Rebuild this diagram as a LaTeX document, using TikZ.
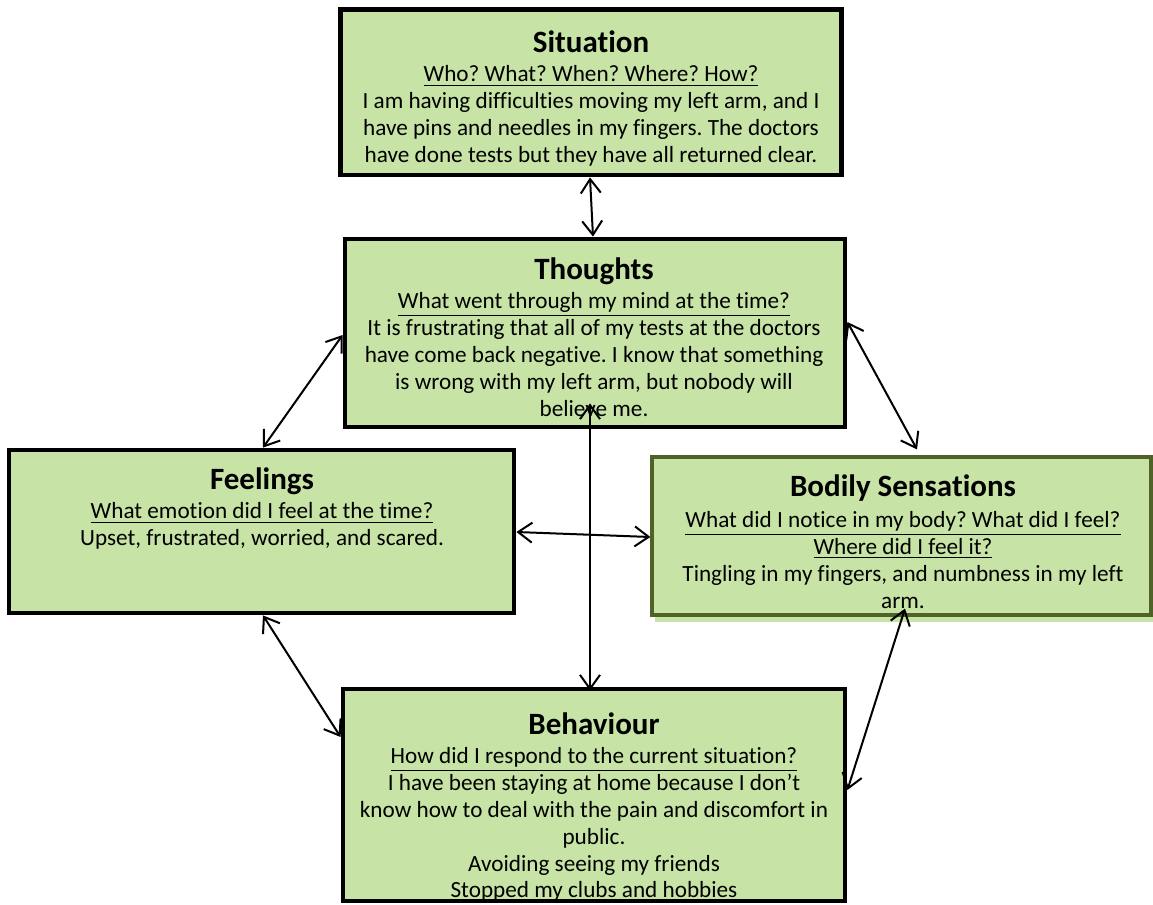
\documentclass[tikz,border=0pt]{standalone}
\usepackage{fontspec}
\setmainfont{Carlito}[Ligatures=NoCommon]
\frenchspacing
\usetikzlibrary{arrows.meta,shadows}

\definecolor{boxgreen}{RGB}{199,228,166}
\definecolor{edgegreen}{RGB}{79,98,40}
\newcommand{\boxtitle}[1]{{\fontsize{15.5}{16}\selectfont\bfseries #1}}

\begin{document}
\begin{tikzpicture}[
  x={(0.5pt,0)}, y={(0,-0.5pt)},
  box/.style={draw, line width=2.4pt, fill=boxgreen, inner sep=0pt},
  boxtext/.style={anchor=north, align=center, inner sep=0pt,
                  font=\fontsize{11.6}{13.4}\selectfont},
  link/.style={{Straight Barb[length=7pt,width=10pt]}-{Straight Barb[length=7pt,width=10pt]},
               line width=1pt},
]
  \useasboundingbox (0,0) rectangle (1153,905);

  % Boxes
  \node[box, minimum width=250.5pt, minimum height=82.75pt] (situation) at (591,92.25) {};
  \node[box, minimum width=250pt, minimum height=94pt] (thoughts) at (595,333) {};
  \node[box, minimum width=252.5pt, minimum height=81.5pt] (feelings) at (261.5,531.5) {};
  \node[box, draw=edgegreen, line width=1.6pt, minimum width=249.5pt, minimum height=79pt,
        drop shadow={shadow xshift=1.5pt, shadow yshift=-3.5pt, fill=boxgreen, opacity=1}]
        (bodily) at (901.5,536) {};
  \node[box, minimum width=251pt, minimum height=106pt] (behaviour) at (594,795) {};

  % Texts
  \node[boxtext] (situation text) at (591,30) {%
    \boxtitle{Situation}\\[1.5pt]
    \underline{Who? What? When? Where? How?}\\
    I am having difficulties moving my left arm, and I\\
    have pins and needles in my fingers. The doctors\\
    have done tests but they have all returned clear.};
  \node[boxtext] (thoughts text) at (594,257) {%
    \boxtitle{Thoughts}\\[1.5pt]
    \underline{What went through my mind at the time?}\\
    It is frustrating that all of my tests at the doctors\\
    have come back negative. I know that something\\
    is wrong with my left arm, but nobody will\\
    believe me.};
  \node[boxtext] (feelings text) at (262,467) {%
    \boxtitle{Feelings}\\[1.5pt]
    \underline{What emotion did I feel at the time?}\\
    Upset, frustrated, worried, and scared.};
  \node[boxtext] (bodily text) at (903,474) {%
    \boxtitle{Bodily Sensations}\\[2.5pt]
    \underline{What did I notice in my body? What did I feel?}\\
    \underline{Where did I feel it?}\\
    Tingling in my fingers, and numbness in my left\\
    arm.};
  \node[boxtext] (behaviour text) at (594,712) {%
    \boxtitle{Behaviour}\\[1.5pt]
    \underline{How did I respond to the current situation?}\\
    I have been staying at home because I don’t\\
    know how to deal with the pain and discomfort in\\
    public.\\
    Avoiding seeing my friends\\
    Stopped my clubs and hobbies};

  % Arrows
  \draw[link] (situation.south -| 590,0) -- (thoughts.north -| 593,0);
  \draw[link] (thoughts.west |- 0,335) -- (feelings.north -| 263,0);
  \draw[link] (thoughts.east |- 0,322) -- ([yshift=3pt]bodily.north -| 917,0);
  \draw[link] (feelings.south -| 263,0) -- (behaviour.west |- 0,737);
  \draw[link] ([yshift=4pt]bodily.south -| 905,0) -- (behaviour.east |- 0,790);
  \draw[link] (feelings.east |- 0,532) -- (bodily.west |- 0,537);
  \draw[link] ([yshift=13pt]thoughts.south -| 590,0) -- ([yshift=-2pt]behaviour.north -| 590,0);
\end{tikzpicture}
\end{document}
